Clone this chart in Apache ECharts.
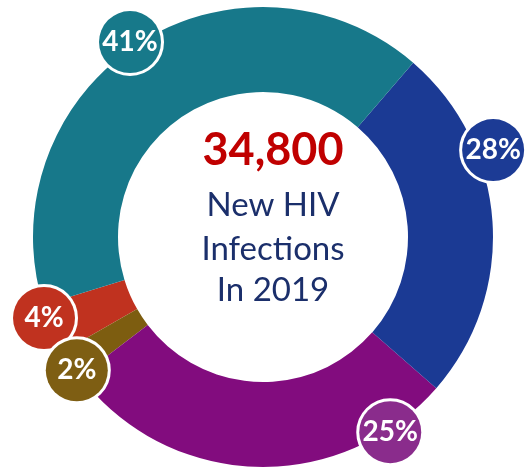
<!DOCTYPE html>
<html>
<head>
<meta charset="utf-8">
<script src="https://cdn.jsdelivr.net/npm/echarts@6/dist/echarts.min.js"></script>
<style>
html,body{margin:0;padding:0;background:#fff;}
#chart{width:526px;height:468px;}
</style>
</head>
<body>
<div id="chart"></div>
<script>
// Data (clockwise order starting at the teal segment)
const categories = ['Group A', 'Group B', 'Group C', 'Group D', 'Group E'];
// arc shares as drawn in the picture (percent of the ring)
const arcShares = [41.1, 25.1, 28.2, 2.1, 3.5];
// percentage labels as printed on the badges
const badgeLabels = ['41%', '28%', '25%', '2%', '4%'];
const headlineValue = '34,800';
const headlineLines = ['New HIV', 'Infections', 'In 2019'];

// styles / layout
const sliceColors = ['#17788A', '#1B3A94', '#820C7E', '#7D5D10', '#C0321F'];
const badgeColors = ['#17798A', '#1C3B95', '#8A2C8C', '#7E5E13', '#C0321F'];
const badgeAngle = [325.7, 69.3, 146.9, 234.4, 249.7]; // deg clockwise from 12 o'clock
const badgeDist = [236, 246, 233, 229, 233.5];
const CX = 263, CY = 237;
const FONT = 'Lato, "Open Sans", sans-serif';

// build series data in counter-clockwise order so that later badges stack on top
const order = [4, 3, 2, 1, 0];
const seriesData = order.map(i => ({
  name: categories[i],
  value: arcShares[i],
  itemStyle: { color: sliceColors[i] },
  label: {
    formatter: badgeLabels[i],
    backgroundColor: badgeColors[i]
  }
}));

const chart = echarts.init(document.getElementById('chart'));
chart.setOption({
  animation: false,
  series: [{
    type: 'pie',
    center: [CX, CY],
    radius: [145, 230],
    startAngle: 197.2,
    clockwise: false,
    silent: true,
    avoidLabelOverlap: false,
    data: seriesData,
    label: {
      show: true,
      position: 'outside',
      color: '#fff',
      fontFamily: FONT,
      fontWeight: 'bold',
      fontSize: 28,
      width: 62,
      height: 62,
      lineHeight: 62,
      align: 'center',
      verticalAlign: 'middle',
      borderColor: '#fff',
      borderWidth: 3,
      borderRadius: 32,
      padding: 0
    },
    labelLine: { show: false },
    labelLayout: function (p) {
      const i = order[p.dataIndex];
      const a = badgeAngle[i] * Math.PI / 180;
      return {
        x: CX + badgeDist[i] * Math.sin(a),
        y: CY - badgeDist[i] * Math.cos(a),
        align: 'center',
        verticalAlign: 'middle'
      };
    }
  }],
  graphic: [{
    type: 'group',
    x: 273,
    y: 128,
    children: [
      { type: 'text', style: { x: 0, y: 0, text: headlineValue, align: 'center', fill: '#C00000', font: 'bold 45px ' + FONT } },
      { type: 'text', style: { x: 0, y: 61, text: headlineLines[0], align: 'center', fill: '#1B2F6B', font: '33px ' + FONT } },
      { type: 'text', style: { x: 0, y: 105, text: headlineLines[1], align: 'center', fill: '#1B2F6B', font: '33px ' + FONT } },
      { type: 'text', style: { x: 0, y: 146, text: headlineLines[2], align: 'center', fill: '#1B2F6B', font: '33px ' + FONT } }
    ]
  }]
});
</script>
</body>
</html>
